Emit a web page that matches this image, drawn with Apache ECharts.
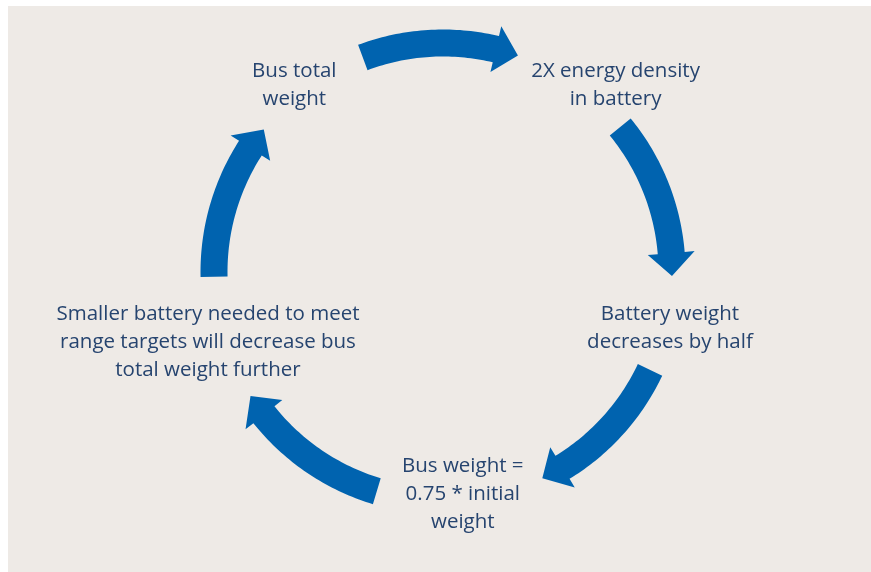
<!DOCTYPE html>
<html>
<head>
<meta charset="utf-8">
<script src="https://cdn.jsdelivr.net/npm/echarts@6/dist/echarts.min.js"></script>
<style>
html,body{margin:0;padding:0;background:#ffffff;}
#chart{width:871px;height:572px;}
</style>
</head>
<body>
<div id="chart"></div>
<script>
// Cycle steps (text), clockwise from the top-left
var steps = [
  'Bus total\nweight',
  '2X energy density\nin battery',
  'Battery weight\ndecreases by half',
  'Bus weight =\n0.75 * initial\nweight',
  'Smaller battery needed to meet\nrange targets will decrease bus\ntotal weight further'
];
// Angular position of each step on the cycle (degrees clockwise from 12 o'clock)
var stepAngle = [321.5, 42.7, 103.9, 174.9, 253.4];
// Distance of each step label from the centre, in cycle radii
var stepRadius = [1.043, 1.111, 1.021, 0.973, 1.071];
// Arrows: start angle (tail) and end angle (tip), degrees clockwise from 12 o'clock
var arrowStart = [-20.5, 50.7, 115.3, 196.8, 268.8];
var arrowEnd   = [19.1, 91.0, 154.3, 237.2, 308.5];

var R = 229;            // cycle radius in px
var CX = 443, CY = 272; // cycle centre in px
var W = 871, H = 572;
var shaftHalf = 13.5 / R;
var headHalf = 23.5 / R;
var headLen = 23 / R;   // in radians at radius 1

var chart = echarts.init(document.getElementById('chart'), null, {renderer: 'canvas'});

function pt(r, deg) {
  var a = deg * Math.PI / 180;
  return [r * Math.sin(a), r * Math.cos(a)];
}

var arrowData = arrowStart.map(function (s, i) { return [s, arrowEnd[i]]; });
var labelData = steps.map(function (t, i) { return [stepAngle[i], stepRadius[i]]; });

var option = {
  backgroundColor: '#ffffff',
  animation: false,
  graphic: [{
    type: 'rect', z: -10,
    shape: {x: 8, y: 6, width: W - 8, height: H - 6},
    style: {fill: '#EEEAE6'}
  }],
  grid: {left: 0, right: 0, top: 0, bottom: 0},
  xAxis: {type: 'value', min: -CX / R, max: (W - CX) / R, show: false},
  yAxis: {type: 'value', min: -(H - CY) / R, max: CY / R, show: false},
  series: [{
    type: 'custom',
    data: arrowData,
    renderItem: function (params, api) {
      var s = api.value(0), e = api.value(1);
      var hb = e - headLen * 180 / Math.PI;
      var pts = [];
      var n = 40, k;
      for (k = 0; k <= n; k++) {
        pts.push(api.coord(pt(1 + shaftHalf, s + (hb - s) * k / n)));
      }
      pts.push(api.coord(pt(1 + headHalf, hb)));
      pts.push(api.coord(pt(1, e)));
      pts.push(api.coord(pt(1 - headHalf, hb)));
      for (k = n; k >= 0; k--) {
        pts.push(api.coord(pt(1 - shaftHalf, s + (hb - s) * k / n)));
      }
      return {
        type: 'polygon',
        shape: {points: pts},
        style: {fill: '#0063AF'}
      };
    }
  }, {
    type: 'custom',
    data: labelData,
    renderItem: function (params, api) {
      var p = api.coord(pt(api.value(1), api.value(0)));
      return {
        type: 'text',
        x: p[0], y: p[1],
        style: {
          text: steps[params.dataIndex],
          fill: '#26446F',
          font: '20.5px "Open Sans"',
          align: 'center',
          verticalAlign: 'middle',
          lineHeight: 28
        }
      };
    }
  }]
};
chart.setOption(option);
</script>
</body>
</html>
